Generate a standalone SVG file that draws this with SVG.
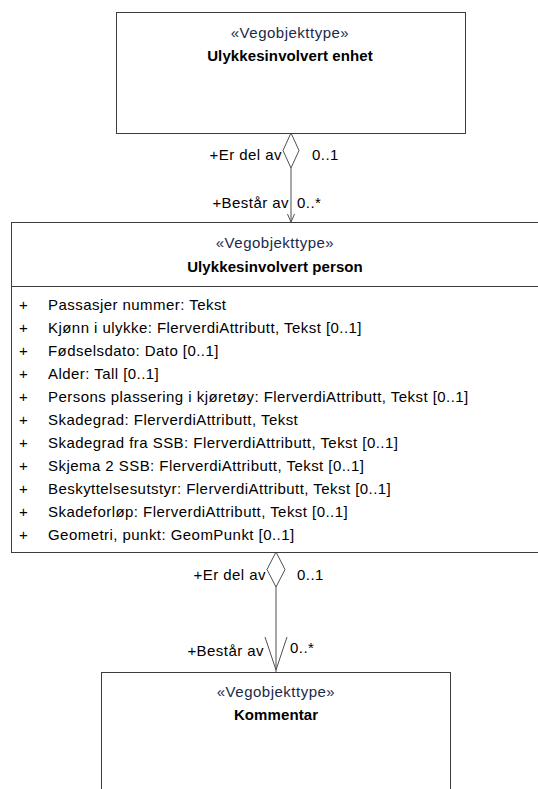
<svg xmlns="http://www.w3.org/2000/svg" width="538" height="789" viewBox="0 0 538 789">
<style>
.box{fill:#ffffff;stroke:#3c3c3c;stroke-width:1}
.st{font-family:"Liberation Sans",Arial,sans-serif;font-size:15px;letter-spacing:0.5px;fill:#1a2a4a;text-anchor:middle}
.ti{font-family:"Liberation Sans",Arial,sans-serif;font-size:15px;letter-spacing:0.1px;font-weight:bold;fill:#000;text-anchor:middle}
.at{font-family:"Liberation Sans",Arial,sans-serif;font-size:15px;letter-spacing:0.45px;fill:#000}
.lb{font-family:"Liberation Sans",Arial,sans-serif;font-size:15px;letter-spacing:0.45px;fill:#000}
.ln{fill:none;stroke:#505050;stroke-width:1}
.dm{fill:#ffffff;stroke:#505050;stroke-width:1}
</style>
<rect width="538" height="789" fill="#ffffff"/>
<g id="connectors">
  <line class="ln" x1="291" y1="168" x2="291" y2="222"/>
  <polygon class="dm" points="291,133 283,150.5 291,168 299,150.5"/>
  <polyline class="ln" points="287.5,214 291,222 294.5,214"/>
  <text class="lb" x="282" y="160" text-anchor="end">+Er del av</text>
  <text class="lb" x="312" y="160">0..1</text>
  <text class="lb" x="289" y="208" text-anchor="end">+Består av</text>
  <text class="lb" x="297" y="208">0..*</text>

  <line class="ln" x1="276" y1="587" x2="276" y2="672"/>
  <polygon class="dm" points="276,552 267,569.5 276,587 285,569.5"/>
  <polyline class="ln" points="265,637 276,670 287,637"/>
  <text class="lb" x="266" y="580" text-anchor="end">+Er del av</text>
  <text class="lb" x="297" y="580">0..1</text>
  <text class="lb" x="264" y="656" text-anchor="end">+Består av</text>
  <text class="lb" x="290" y="653">0..*</text>
</g>
<g id="ulykkesinvolvert-enhet">
  <rect class="box" x="116.5" y="12.5" width="349" height="121"/>
  <text class="st" x="290" y="38">«Vegobjekttype»</text>
  <text class="ti" x="290" y="61">Ulykkesinvolvert enhet</text>
</g>
<g id="ulykkesinvolvert-person">
  <rect class="box" x="11.5" y="222.5" width="530" height="330"/>
  <line class="ln" x1="11.5" y1="286.5" x2="541" y2="286.5" style="stroke:#3c3c3c"/>
  <text class="st" x="275" y="248">«Vegobjekttype»</text>
  <text class="ti" x="275" y="272">Ulykkesinvolvert person</text>
  <g class="at">
    <text x="19" y="310">+</text><text x="48" y="310">Passasjer nummer: Tekst</text>
    <text x="19" y="333">+</text><text x="48" y="333">Kjønn i ulykke: FlerverdiAttributt, Tekst [0..1]</text>
    <text x="19" y="356">+</text><text x="48" y="356">Fødselsdato: Dato [0..1]</text>
    <text x="19" y="379">+</text><text x="48" y="379">Alder: Tall [0..1]</text>
    <text x="19" y="402">+</text><text x="48" y="402">Persons plassering i kjøretøy: FlerverdiAttributt, Tekst [0..1]</text>
    <text x="19" y="425">+</text><text x="48" y="425">Skadegrad: FlerverdiAttributt, Tekst</text>
    <text x="19" y="448">+</text><text x="48" y="448">Skadegrad fra SSB: FlerverdiAttributt, Tekst [0..1]</text>
    <text x="19" y="471">+</text><text x="48" y="471">Skjema 2 SSB: FlerverdiAttributt, Tekst [0..1]</text>
    <text x="19" y="494">+</text><text x="48" y="494">Beskyttelsesutstyr: FlerverdiAttributt, Tekst [0..1]</text>
    <text x="19" y="517">+</text><text x="48" y="517">Skadeforløp: FlerverdiAttributt, Tekst [0..1]</text>
    <text x="19" y="540">+</text><text x="48" y="540">Geometri, punkt: GeomPunkt [0..1]</text>
  </g>
</g>
<g id="kommentar">
  <rect class="box" x="101.5" y="672.5" width="349" height="130"/>
  <text class="st" x="276" y="697">«Vegobjekttype»</text>
  <text class="ti" x="276" y="720">Kommentar</text>
</g>
</svg>
